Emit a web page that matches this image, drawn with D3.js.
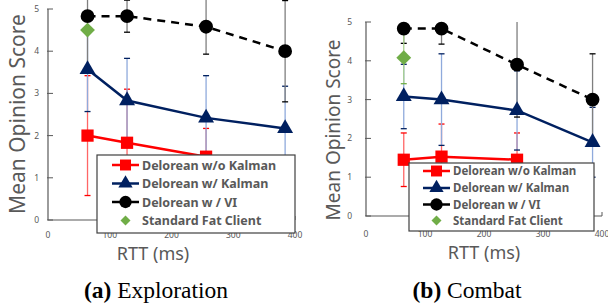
<!DOCTYPE html>
<html lang="en">
<head>
    <meta charset="UTF-8">
    <title>Mean Opinion Score vs RTT</title>
    <script src="https://d3js.org/d3.v7.min.js"></script>
    <style>
        body {
            margin: 0;
            padding: 0;
            background-color: #ffffff;
        }
        svg {
            display: block;
        }
        .tick-label {
            font-family: "Noto Sans", sans-serif;
            font-size: 8.5px;
            fill: #595959;
        }
        .axis-title {
            font-family: "Noto Sans", sans-serif;
            fill: #595959;
        }
        .legend-text {
            font-family: "Noto Sans", sans-serif;
            font-weight: bold;
            fill: #595959;
        }
        .caption {
            font-family: "Liberation Serif", "Times New Roman", serif;
            font-size: 23.5px;
            fill: #000;
        }
    </style>
</head>
<body>
    <svg id="chart" width="608" height="307"></svg>

    <script>
        // RTT values (ms) shared by both panels
        const rtt = [64, 128, 256, 384];
        const seriesNames = ["Delorean w/o Kalman", "Delorean w/ Kalman", "Delorean w / VI", "Standard Fat Client"];
        const yTicks = [0, 1, 2, 3, 4, 5];
        const xTicks = [0, 100, 200, 300, 400];

        // (a) Exploration
        const explNoKalman = [2.0, 1.83, 1.5, null];
        const explNoKalmanErr = [1.42, 1.27, 0.67, null];
        const explKalman = [3.57, 2.83, 2.42, 2.17];
        const explKalmanErr = [1.0, 1.0, 1.0, 1.0];
        const explVI = [4.83, 4.83, 4.58, 4.0];
        const explVIErr = [1.2, 0.38, 0.65, 1.2];
        const explFat = [4.5, null, null, null];
        const explFatErr = [0, null, null, null];

        // (b) Combat
        const combNoKalman = [1.45, 1.53, 1.45, null];
        const combNoKalmanErr = [0.69, 0.84, 0.69, null];
        const combKalman = [3.08, 3.0, 2.72, 1.9];
        const combKalmanErr = [0.83, 1.18, 1.02, 0.9];
        const combVI = [4.83, 4.83, 3.9, 3.0];
        const combVIErr = [0.38, 0.4, 1.35, 1.18];
        const combFat = [4.08, null, null, null];
        const combFatErr = [0.67, null, null, null];

        // diamond = square turned 45 degrees (d3's diamond is too thin)
        const styles = [
            { color: "#ff0000", err: "#ff6666", cap: "#ff0000", marker: d3.symbolSquare, size: 150, rot: 0, dash: null, line: true },
            { color: "#002060", err: "#8faadc", cap: "#002060", marker: d3.symbolTriangle, size: 110, rot: 0, dash: null, line: true },
            { color: "#000000", err: "#7f7f7f", cap: "#000000", marker: d3.symbolCircle, size: 150, rot: 0, dash: "8,6", line: true },
            { color: "#70ad47", err: "#a9d18e", cap: "#70ad47", marker: d3.symbolSquare, size: 110, rot: 45, dash: null, line: false }
        ];

        const panels = [
            {
                x0: 48, x1: 295, yTop: 9, yBot: 220, clipTop: false,
                values: [explNoKalman, explKalman, explVI, explFat],
                errors: [explNoKalmanErr, explKalmanErr, explVIErr, explFatErr],
                yLabelX: 39, xLabelY: 237.5, titleX: 18, titleY: 114, titleSize: 21,
                rttX: 153, rttY: 260, rttSize: 18,
                legend: { x: 97, y: 155, w: 198, h: 78, rowY: [165, 183.5, 202, 220.5], lineX: 112, fontSize: 12.5 },
                caption: { x: 156, bold: "(a)", rest: " Exploration" }
            },
            {
                x0: 366, x1: 602, yTop: 22, yBot: 216, clipTop: true,
                values: [combNoKalman, combKalman, combVI, combFat],
                errors: [combNoKalmanErr, combKalmanErr, combVIErr, combFatErr],
                yLabelX: 352, xLabelY: 236.5, titleX: 333, titleY: 130, titleSize: 19,
                rttX: 484, rttY: 259, rttSize: 18,
                legend: { x: 409, y: 163, w: 185, h: 68, rowY: [171, 188, 204.5, 220.5], lineX: 423, fontSize: 11.5 },
                caption: { x: 467, bold: "(b)", rest: " Combat" }
            }
        ];

        const svg = d3.select("#chart");

        panels.forEach(p => {
            const g = svg.append("g");
            const x = d3.scaleLinear().domain([0, 400]).range([p.x0, p.x1]);
            const y = d3.scaleLinear().domain([0, 5]).range([p.yBot, p.yTop]);
            const yMaxPix = p.clipTop ? y(5) : -50;

            // axes
            g.append("line").attr("x1", x(0)).attr("x2", x(0)).attr("y1", y(5)).attr("y2", y(0))
                .attr("stroke", "#595959").attr("stroke-width", 1.2);
            g.append("line").attr("x1", x(0)).attr("x2", x(400)).attr("y1", y(0)).attr("y2", y(0))
                .attr("stroke", "#595959").attr("stroke-width", 1.2);
            g.selectAll(".ytick").data(yTicks).enter().append("line")
                .attr("x1", x(0) - 1).attr("x2", x(0) + 5)
                .attr("y1", d => y(d)).attr("y2", d => y(d))
                .attr("stroke", "#595959").attr("stroke-width", 1);
            g.append("line").attr("x1", x(400)).attr("x2", x(400)).attr("y1", y(0)).attr("y2", y(0) - 4)
                .attr("stroke", "#595959").attr("stroke-width", 1);

            g.selectAll(".ylab").data(yTicks).enter().append("text")
                .attr("class", "tick-label")
                .attr("x", p.yLabelX).attr("y", d => y(d) + 3)
                .attr("text-anchor", "end")
                .text(d => d);
            g.selectAll(".xlab").data(xTicks).enter().append("text")
                .attr("class", "tick-label")
                .attr("x", d => x(d)).attr("y", p.xLabelY)
                .attr("text-anchor", "middle")
                .text(d => d);

            g.append("text").attr("class", "axis-title")
                .attr("transform", `translate(${p.titleX},${p.titleY}) rotate(-90)`)
                .attr("text-anchor", "middle").attr("dy", "0.35em")
                .style("font-size", p.titleSize + "px")
                .text("Mean Opinion Score");

            // error bars
            p.values.forEach((vals, si) => {
                const st = styles[si];
                rtt.forEach((r, i) => {
                    const v = vals[i], e = p.errors[si][i];
                    if (v == null || !e) return;
                    const top = Math.max(y(v + e), yMaxPix);
                    g.append("line").attr("x1", x(r)).attr("x2", x(r))
                        .attr("y1", top).attr("y2", y(v - e))
                        .attr("stroke", st.err).attr("stroke-width", 1.3);
                    [v + e, v - e].forEach(c => {
                        if (y(c) < yMaxPix) return;
                        g.append("line").attr("x1", x(r) - 3).attr("x2", x(r) + 3)
                            .attr("y1", y(c)).attr("y2", y(c))
                            .attr("stroke", st.cap).attr("stroke-width", 1.3);
                    });
                });
            });

            // lines and markers
            p.values.forEach((vals, si) => {
                const st = styles[si];
                const pts = rtt.map((r, i) => ({ r, v: vals[i] })).filter(d => d.v != null);
                if (st.line) {
                    g.append("path")
                        .datum(pts)
                        .attr("fill", "none")
                        .attr("stroke", st.color)
                        .attr("stroke-width", 2.5)
                        .attr("stroke-dasharray", st.dash)
                        .attr("d", d3.line().x(d => x(d.r)).y(d => y(d.v)));
                }
                g.selectAll(null).data(pts).enter().append("path")
                    .attr("d", d3.symbol().type(st.marker).size(st.size))
                    .attr("transform", d => `translate(${x(d.r)},${y(d.v)}) rotate(${st.rot})`)
                    .attr("fill", st.color);
            });

            // legend
            const L = p.legend;
            g.append("rect").attr("x", L.x).attr("y", L.y).attr("width", L.w).attr("height", L.h)
                .attr("fill", "#fff").attr("stroke", "#404040").attr("stroke-width", 1.2);
            seriesNames.forEach((name, si) => {
                const st = styles[si];
                const ry = L.rowY[si];
                if (st.line) {
                    g.append("line").attr("x1", L.lineX).attr("x2", L.lineX + 27)
                        .attr("y1", ry).attr("y2", ry)
                        .attr("stroke", st.color).attr("stroke-width", 2.5);
                }
                g.append("path")
                    .attr("d", d3.symbol().type(st.marker).size(st.line ? st.size * 0.8 : 50))
                    .attr("transform", `translate(${L.lineX + 13.5},${ry}) rotate(${st.rot})`)
                    .attr("fill", st.color);
                g.append("text").attr("class", "legend-text")
                    .attr("x", L.lineX + 30).attr("y", ry).attr("dy", "0.36em")
                    .style("font-size", L.fontSize + "px")
                    .text(name);
            });

            g.append("text").attr("class", "axis-title")
                .attr("x", p.rttX).attr("y", p.rttY)
                .attr("text-anchor", "middle")
                .style("font-size", p.rttSize + "px")
                .text("RTT (ms)");

            const cap = g.append("text").attr("class", "caption")
                .attr("x", p.caption.x).attr("y", 298)
                .attr("text-anchor", "middle");
            cap.append("tspan").style("font-weight", "bold").text(p.caption.bold);
            cap.append("tspan").text(p.caption.rest);
        });
    </script>
</body>
</html>
